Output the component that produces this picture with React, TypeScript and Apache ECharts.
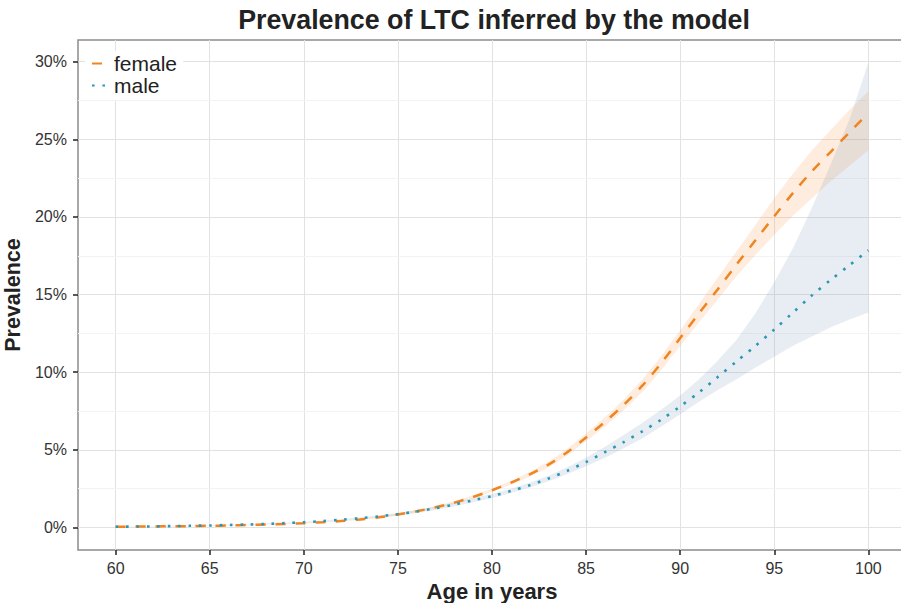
import { useEffect, useRef } from "react";
import * as echarts from "echarts";

const ages = [60, 61, 62, 63, 64, 65, 66, 67, 68, 69, 70, 71, 72, 73, 74, 75, 76, 77, 78, 79, 80, 81, 82, 83, 84, 85, 86, 87, 88, 89, 90, 91, 92, 93, 94, 95, 96, 97, 98, 99, 100];

const femaleMean = [0.05, 0.06, 0.07, 0.08, 0.09, 0.11, 0.13, 0.16, 0.19, 0.23, 0.28, 0.34, 0.42, 0.52, 0.66, 0.84, 1.05, 1.3, 1.6, 1.97, 2.4, 2.88, 3.42, 4.05, 4.85, 5.8, 6.8, 7.9, 9.15, 10.6, 12.2, 13.8, 15.35, 16.95, 18.5, 20.05, 21.55, 22.95, 24.2, 25.45, 26.7];
const femaleLow = [0.04, 0.05, 0.06, 0.07, 0.08, 0.1, 0.12, 0.14, 0.17, 0.21, 0.25, 0.31, 0.39, 0.48, 0.61, 0.78, 0.98, 1.22, 1.51, 1.87, 2.3, 2.76, 3.27, 3.87, 4.63, 5.55, 6.5, 7.55, 8.75, 10.15, 11.7, 13.2, 14.7, 16.2, 17.55, 18.85, 20.1, 21.2, 22.3, 23.3, 24.3];
const femaleHigh = [0.06, 0.07, 0.08, 0.09, 0.1, 0.12, 0.14, 0.18, 0.21, 0.25, 0.31, 0.37, 0.45, 0.56, 0.71, 0.9, 1.12, 1.38, 1.69, 2.07, 2.5, 3.0, 3.57, 4.23, 5.07, 6.05, 7.1, 8.25, 9.55, 11.05, 12.7, 14.4, 16.1, 17.8, 19.5, 21.2, 22.8, 24.3, 25.6, 26.9, 28.1];

const maleMean = [0.05, 0.06, 0.07, 0.09, 0.11, 0.13, 0.16, 0.19, 0.23, 0.28, 0.34, 0.41, 0.5, 0.6, 0.72, 0.86, 1.03, 1.24, 1.48, 1.75, 2.02, 2.35, 2.72, 3.15, 3.65, 4.22, 4.85, 5.5, 6.2, 6.95, 7.8, 8.7, 9.7, 10.7, 11.7, 12.75, 13.85, 14.95, 15.95, 16.9, 17.85];
const maleLow = [0.04, 0.05, 0.06, 0.08, 0.1, 0.12, 0.14, 0.17, 0.21, 0.25, 0.31, 0.37, 0.45, 0.54, 0.65, 0.78, 0.94, 1.13, 1.36, 1.62, 1.9, 2.22, 2.58, 2.98, 3.45, 3.95, 4.5, 5.1, 5.75, 6.5, 7.3, 8.1, 8.85, 9.55, 10.3, 11.0, 11.7, 12.3, 12.9, 13.4, 13.85];
const maleHigh = [0.06, 0.07, 0.08, 0.1, 0.12, 0.14, 0.18, 0.21, 0.25, 0.31, 0.37, 0.45, 0.55, 0.66, 0.79, 0.94, 1.12, 1.35, 1.61, 1.9, 2.15, 2.5, 2.88, 3.34, 3.88, 4.5, 5.2, 5.95, 6.75, 7.6, 8.5, 9.55, 10.75, 12.1, 13.8, 15.8, 18.0, 20.6, 23.4, 26.3, 29.95];

const xTicks = [60, 65, 70, 75, 80, 85, 90, 95, 100];
const yTicks = [0, 5, 10, 15, 20, 25, 30];
const yMinorTicks = [2.5, 7.5, 12.5, 17.5, 22.5, 27.5];

const FONT = "'Liberation Sans', Arial, Helvetica, sans-serif";
const ORANGE = "#EF8420";
const TEAL = "#2A97B4";

function bandSeries(name: string, lo: number[], hi: number[], fill: string) {
  return {
    name,
    type: "custom",
    data: ages.map((a, i) => [a, lo[i], hi[i]]),
    encode: { x: 0, y: [1, 2] },
    z: 2,
    silent: true,
    renderItem: (params: any, api: any) => {
      if (params.dataIndex !== 0) return null;
      const upper = ages.map((a, i) => api.coord([a, hi[i]]));
      const lower = ages.map((a, i) => api.coord([a, lo[i]])).reverse();
      return {
        type: "polygon",
        shape: { points: [...upper, ...lower] },
        style: { fill },
      };
    },
  };
}

export default function App() {
  const ref = useRef<HTMLDivElement>(null);

  useEffect(() => {
    const chart = echarts.init(ref.current!, null, { renderer: "svg" });
    const pairs = (ys: number[]) => ages.map((a, i) => [a, ys[i]]);

    const gridLines = [
      ...xTicks.map((v) => ({ xAxis: v, lineStyle: { color: "#e2e2e2", width: 1, type: "solid" } })),
      ...yTicks.map((v) => ({ yAxis: v, lineStyle: { color: "#e2e2e2", width: 1, type: "solid" } })),
      ...yMinorTicks.map((v) => ({ yAxis: v, lineStyle: { color: "#f3f3f3", width: 1, type: "solid" } })),
    ];

    const option: any = {
      animation: false,
      textStyle: { fontFamily: FONT },
      title: {
        text: "Prevalence of LTC inferred by the model",
        left: 489,
        top: 1,
        textAlign: "center",
        textStyle: { fontSize: 26.8, fontWeight: "bold", color: "#222", fontFamily: FONT },
      },
      grid: {
        left: 78,
        top: 40,
        width: 828,
        height: 510,
        show: true,
        borderColor: "#8c8c8c",
        borderWidth: 1.5,
        backgroundColor: "transparent",
        outerBoundsMode: "none",
        containLabel: false,
      },
      legend: {
        data: ["female", "male"],
        orient: "vertical",
        left: 85,
        top: 51,
        z: 20,
        itemWidth: 17,
        itemHeight: 10,
        itemGap: 1,
        padding: [2, 6, 4, 6],
        backgroundColor: "#ffffff",
        itemStyle: { opacity: 0 },
        textStyle: { fontSize: 21, lineHeight: 21, color: "#222", fontFamily: FONT },
      },
      xAxis: {
        type: "value",
        min: 58,
        max: 102,
        name: "Age in years",
        nameLocation: "middle",
        nameGap: 30,
        nameTextStyle: { fontSize: 22, fontWeight: "bold", color: "#222", fontFamily: FONT },
        axisLine: { show: false, onZero: false },
        axisTick: {
          show: true,
          customValues: xTicks,
          length: 5,
          lineStyle: { color: "#222", width: 1.5 },
        },
        axisLabel: {
          customValues: xTicks,
          fontSize: 16,
          color: "#333",
          margin: 10,
          fontFamily: FONT,
        },
        splitLine: { show: false },
      },
      yAxis: {
        type: "value",
        min: -1.45,
        max: 31.4,
        name: "Prevalence",
        nameLocation: "middle",
        nameGap: 39,
        nameTextStyle: { fontSize: 21.5, fontWeight: "bold", color: "#222", fontFamily: FONT },
        axisLine: { show: false, onZero: false },
        axisTick: {
          show: true,
          customValues: yTicks,
          length: 5,
          lineStyle: { color: "#222", width: 1.5 },
        },
        axisLabel: {
          customValues: yTicks,
          fontSize: 16,
          color: "#333",
          margin: 11,
          fontFamily: FONT,
          formatter: (v: number) => `${v}%`,
        },
        splitLine: { show: false },
      },
      series: [
        {
          name: "grid",
          type: "line",
          data: [],
          z: 0,
          silent: true,
          markLine: {
            z: 0,
            silent: true,
            symbol: "none",
            label: { show: false },
            data: gridLines,
          },
        },
        bandSeries("femaleBand", femaleLow, femaleHigh, "rgba(247,150,70,0.18)"),
        bandSeries("maleBand", maleLow, maleHigh, "rgba(110,150,180,0.17)"),
        {
          name: "female",
          type: "line",
          data: pairs(femaleMean),
          symbol: "none",
          smooth: 0.3,
          itemStyle: { color: ORANGE },
          lineStyle: { color: ORANGE, width: 2.5, type: [10, 10] },
          z: 4,
        },
        {
          name: "male",
          type: "line",
          data: pairs(maleMean),
          symbol: "none",
          smooth: 0.3,
          itemStyle: { color: TEAL },
          lineStyle: { color: TEAL, width: 2.6, type: [2.6, 7.8] },
          z: 4,
        },
      ],
    };

    chart.setOption(option);
    return () => chart.dispose();
  }, []);

  return (
    <div
      style={{
        position: "absolute",
        left: 0,
        top: 0,
        width: 901,
        height: 603,
        overflow: "hidden",
      }}
    >
      <div ref={ref} style={{ width: 912, height: 603 }} />
    </div>
  );
}
